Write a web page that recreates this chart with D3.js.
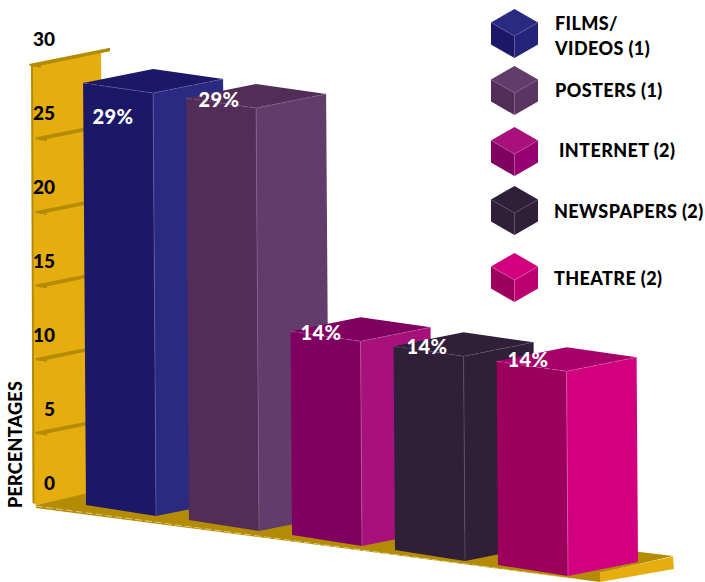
<!DOCTYPE html>
<html>
<head>
<meta charset="utf-8">
<style>
html,body{margin:0;padding:0;background:#fff}
svg{display:block}
text{font-family:Lato,"Open Sans",sans-serif;font-weight:900}
</style>
<script src="https://cdn.jsdelivr.net/npm/d3@7/dist/d3.min.js"></script>
</head>
<body>
<svg id="chart" width="705" height="582"></svg>
<script>
// Share of mentions per medium, with the number of mentions in brackets
const categories = ["FILMS/VIDEOS", "POSTERS", "INTERNET", "NEWSPAPERS", "THEATRE"];
const percentages = [29, 29, 14, 14, 14];
const mentions = [1, 1, 2, 2, 2];
const axisTicks = [0, 5, 10, 15, 20, 25, 30];
const axisTitle = "PERCENTAGES";

// Face colours per category
const frontColors = ["#1c1767", "#512d58", "#7f0060", "#2f1f38", "#9c005c"];
const sideColors = ["#2a2a82", "#623c6b", "#a8107c", "#2f1f38", "#d2007f"];
const capColors = ["#1c1767", "#512d58", "#7f0060", "#2f1f38", "#a8006a"];
const midColors = ["#24247a", "#5a3562", "#970070", "#2f1f38", "#bd0070"];
const seamColors = ["#5f5da0", "#80608a", "#b85aa0", "#5f4f68", "#e060b0"];
const wallColor = "#e5ae0e", shelfColor = "#b38b05";

const svg = d3.select("#chart");
const outline = d3.line();

// Oblique projection: category runs down the floor, value runs up the page
const baseX = d3.scalePoint().domain(categories).range([86, 498]);
const baseY = d3.scalePoint().domain(categories).range([505, 565]);
const rise = d3.scaleLinear().domain([0, 30]).range([0, 436.5]);
const lean = d3.scaleLinear().domain([0, 30]).range([0, 3]);
const barRun = 70, frontDrop = 11, sideRise = 14;

// Back wall and its scale shelves
const wallBase = 503, wallLeft = 32, wallRun = 69, wallSlope = 0.2;
const wallY = d3.scaleLinear().domain([0, 30]).range([505.5, 64]);
const top30 = wallY(axisTicks[axisTicks.length - 1]);

svg.append("path")
  .attr("d", outline([[wallLeft, top30 + 1], [wallLeft + wallRun, top30 - 13], [wallLeft + wallRun + 4, 490], [36, 505], [wallLeft + 1, wallBase]]) + "Z")
  .attr("fill", wallColor);
svg.append("line")
  .attr("x1", wallLeft).attr("y1", top30 + 1).attr("x2", wallLeft + 1.5).attr("y2", wallBase)
  .attr("stroke", shelfColor).attr("stroke-width", 2);

svg.selectAll("g.shelf")
  .data(axisTicks.filter(t => t > 0))
  .join("g").attr("class", "shelf")
  .each(function (t) {
    const g = d3.select(this);
    const y = wallY(t);
    const isTop = t === 30;
    const x0 = isTop ? 29 : 35;
    const x1 = isTop ? 110 : 100;
    const y1 = y - (x1 - x0) * wallSlope;
    g.append("path")
      .attr("d", outline([[x0, y], [x1, y1], [x1, y1 + 3.5], [x0 + 12, y + 1.5], [x0 + 12, y + 3.5], [x0 + 1, y + 2]]) + "Z")
      .attr("fill", shelfColor);
  });

// Floor slab with a lighter end cap at the front right
svg.append("path")
  .attr("d", outline([[36, 505], [110, 488], [673, 556], [600, 573], [600, 582], [36, 508]]) + "Z")
  .attr("fill", shelfColor);
svg.append("path")
  .attr("d", outline([[600, 572.5], [673, 556.5], [674, 569], [600, 582]]) + "Z")
  .attr("fill", wallColor);
svg.append("line")
  .attr("x1", 36).attr("y1", 506).attr("x2", 580).attr("y2", 579.5)
  .attr("stroke", "#e6d7a0").attr("stroke-width", 0.8).attr("stroke-dasharray", "7 3");

// Bars, drawn back to front
const bars = svg.selectAll("g.bar")
  .data(categories.map((c, i) => ({ c, i, v: percentages[i] })))
  .join("g").attr("class", "bar");

bars.each(function (d) {
  const g = d3.select(this);
  const bx = baseX(d.c), by = baseY(d.c);
  const tx = bx - lean(d.v), ty = by - rise(d.v);
  const fl = [tx, ty], fm = [tx + barRun, ty + frontDrop - 1], fr = [tx + 2 * barRun, ty + frontDrop - 1 - sideRise];
  const bk = [tx + barRun, ty - sideRise];
  const bl = [bx, by], bm = [bx + barRun, by + frontDrop], br = [bx + 2 * barRun, by + frontDrop - sideRise];
  g.append("path").attr("d", outline([fl, fm, bm, bl]) + "Z").attr("fill", frontColors[d.i]);
  g.append("path").attr("d", outline([fm, fr, br, bm]) + "Z").attr("fill", sideColors[d.i]);
  g.append("path").attr("d", outline([fl, bk, fr, fm]) + "Z").attr("fill", capColors[d.i]);
  g.append("path").attr("d", outline([fl, fm, fr]))
    .attr("fill", "none").attr("stroke", seamColors[d.i]).attr("stroke-width", 0.7).attr("stroke-dasharray", "6 2");
  g.append("path").attr("d", outline([fm, bm]))
    .attr("fill", "none").attr("stroke", seamColors[d.i]).attr("stroke-width", 0.7);
});

// Value labels sit on top of every bar
const labelAnchors = [[113, 124], [219, 107], [321, 340], [427, 354], [528, 367]];
svg.selectAll("text.value")
  .data(percentages)
  .join("text").attr("class", "value")
  .attr("x", (d, i) => labelAnchors[i][0])
  .attr("y", (d, i) => labelAnchors[i][1])
  .attr("text-anchor", "middle")
  .attr("font-size", 20)
  .attr("letter-spacing", 0.4)
  .attr("fill", "#fff")
  .text(d => d + "%");

// Scale numbers
const tickLabelY = d3.scaleLinear().domain([0, 30]).range([490, 46]);
svg.selectAll("text.tick")
  .data(axisTicks)
  .join("text").attr("class", "tick")
  .attr("x", 55)
  .attr("y", d => tickLabelY(d))
  .attr("text-anchor", "end")
  .attr("font-size", 19)
  .attr("fill", "#000")
  .text(d => d);

svg.append("text")
  .attr("transform", "translate(22,508) rotate(-90)")
  .attr("font-size", 18)
  .attr("letter-spacing", 0.25)
  .attr("fill", "#000")
  .text(axisTitle);

// Legend of small cubes
const legendTops = [9, 66, 127, 186, 253];
const legendLines = [["FILMS/", "VIDEOS (" + mentions[0] + ")"], ["POSTERS (" + mentions[1] + ")"], ["INTERNET (" + mentions[2] + ")"], ["NEWSPAPERS (" + mentions[3] + ")"], ["THEATRE (" + mentions[4] + ")"]];
const legendTextX = [555, 555, 559, 554, 554];
const legendTextY = [[30, 55], [97], [156.5], [218], [285]];

const legend = svg.selectAll("g.key").data(categories).join("g").attr("class", "key");
legend.each(function (c, i) {
  const g = d3.select(this);
  const x = 491, y = legendTops[i], w = 47, h = 49, s = 13.5;
  const topC = [x + w / 2, y], r = [x + w, y + s], mid = [x + w / 2, y + 2 * s], l = [x, y + s];
  const bot = [x + w / 2, y + h], lb = [x, y + h - s], rb = [x + w, y + h - s];
  g.append("path").attr("d", outline([topC, r, mid, l]) + "Z").attr("fill", sideColors[i]);
  g.append("path").attr("d", outline([l, mid, bot, lb]) + "Z").attr("fill", frontColors[i]);
  g.append("path").attr("d", outline([mid, r, rb, bot]) + "Z").attr("fill", midColors[i]);
  g.append("path").attr("d", outline([l, mid, r])).attr("fill", "none").attr("stroke", seamColors[i]).attr("stroke-width", 0.6);
  g.append("path").attr("d", outline([mid, bot])).attr("fill", "none").attr("stroke", seamColors[i]).attr("stroke-width", 0.6);
  legendLines[i].forEach((t, k) => {
    g.append("text")
      .attr("x", legendTextX[i]).attr("y", legendTextY[i][k])
      .attr("font-size", 18).attr("letter-spacing", 0.4).attr("fill", "#000").text(t);
  });
});
</script>
</body>
</html>
